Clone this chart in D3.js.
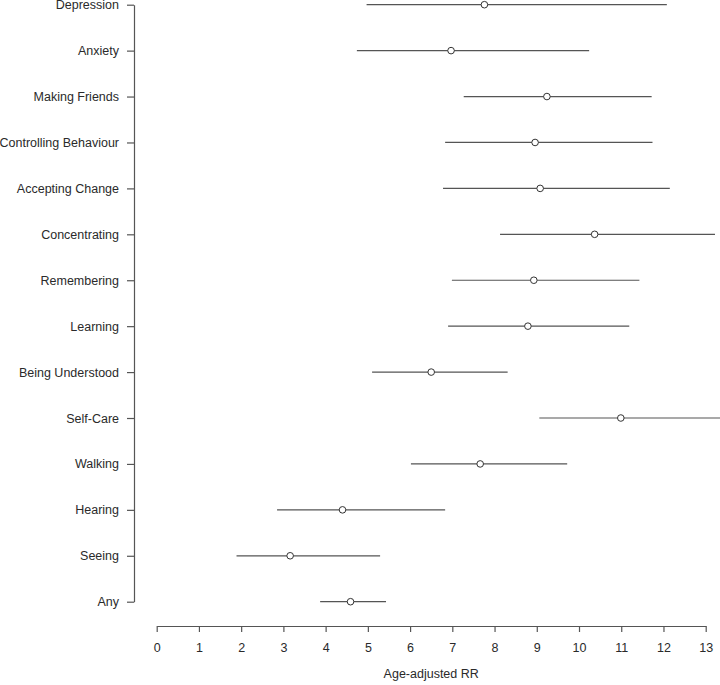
<!DOCTYPE html>
<html>
<head>
<meta charset="utf-8">
<script src="https://cdn.jsdelivr.net/npm/d3@7"></script>
<style>
  html, body { margin: 0; padding: 0; background: #fff; }
  svg { display: block; }
  text { font-family: "Liberation Sans", Arial, sans-serif; }
</style>
</head>
<body>
<svg id="chart" width="720" height="685"></svg>
<script>
const categories = ["Depression", "Anxiety", "Making Friends", "Controlling Behaviour", "Accepting Change",
  "Concentrating", "Remembering", "Learning", "Being Understood", "Self-Care", "Walking", "Hearing", "Seeing", "Any"];
const estimates = [7.76, 6.97, 9.24, 8.96, 9.08, 10.37, 8.93, 8.79, 6.50, 10.99, 7.66, 4.40, 3.16, 4.59];
const lower     = [4.97, 4.74, 7.27, 6.83, 6.78, 8.13, 6.99, 6.90, 5.10, 9.06, 6.02, 2.85, 1.89, 3.87];
const upper     = [12.08, 10.24, 11.72, 11.74, 12.15, 13.22, 11.43, 11.19, 8.31, 13.40, 9.72, 6.83, 5.29, 5.43];
const xTicks = [0,1,2,3,4,5,6,7,8,9,10,11,12,13];
const xTitle = "Age-adjusted RR";

const data = categories.map((c, i) => ({ cat: c, est: estimates[i], lo: lower[i], hi: upper[i] }));

const svg = d3.select("#chart");
const x = d3.scaleLinear().domain([0, 13]).range([156.7, 705.7]);
const y = d3.scalePoint().domain(categories).range([4.7, 601.7]);

const axisColor = "#555";
const textColor = "#2a2a2a";
const fs = 12.5;

const g = svg.append("g");

// error bars
g.selectAll("line.ci").data(data).enter().append("line")
  .attr("class", "ci")
  .attr("x1", d => x(d.lo)).attr("x2", d => x(d.hi))
  .attr("y1", d => y(d.cat)).attr("y2", d => y(d.cat))
  .attr("stroke", "#555").attr("stroke-width", 1.2);

// points
g.selectAll("circle.pt").data(data).enter().append("circle")
  .attr("class", "pt")
  .attr("cx", d => x(d.est)).attr("cy", d => y(d.cat))
  .attr("r", 3.3)
  .attr("fill", "#fff").attr("stroke", "#333").attr("stroke-width", 1);

// y axis
const yAxis = svg.append("g").attr("transform", "translate(134,0)")
  .call(d3.axisLeft(y).tickSize(7).tickSizeOuter(0).tickPadding(8));
yAxis.selectAll("path, line").attr("stroke", axisColor).attr("stroke-width", 1.2);
yAxis.selectAll("text").attr("font-size", fs).attr("fill", textColor)
  .style("font-family", "'Liberation Sans', Arial, sans-serif");

// x axis
const xAxis = svg.append("g").attr("transform", "translate(0,626)")
  .call(d3.axisBottom(x).tickValues(xTicks).tickFormat(d3.format("d")).tickSize(6).tickSizeOuter(0).tickPadding(11));
xAxis.selectAll("path, line").attr("stroke", axisColor).attr("stroke-width", 1.2);
xAxis.selectAll("text").attr("font-size", fs).attr("fill", textColor)
  .style("font-family", "'Liberation Sans', Arial, sans-serif");

// x title
svg.append("text")
  .attr("x", (x(0) + x(13)) / 2).attr("y", 678)
  .attr("text-anchor", "middle")
  .attr("font-size", fs).attr("fill", textColor)
  .text(xTitle);
</script>
</body>
</html>
